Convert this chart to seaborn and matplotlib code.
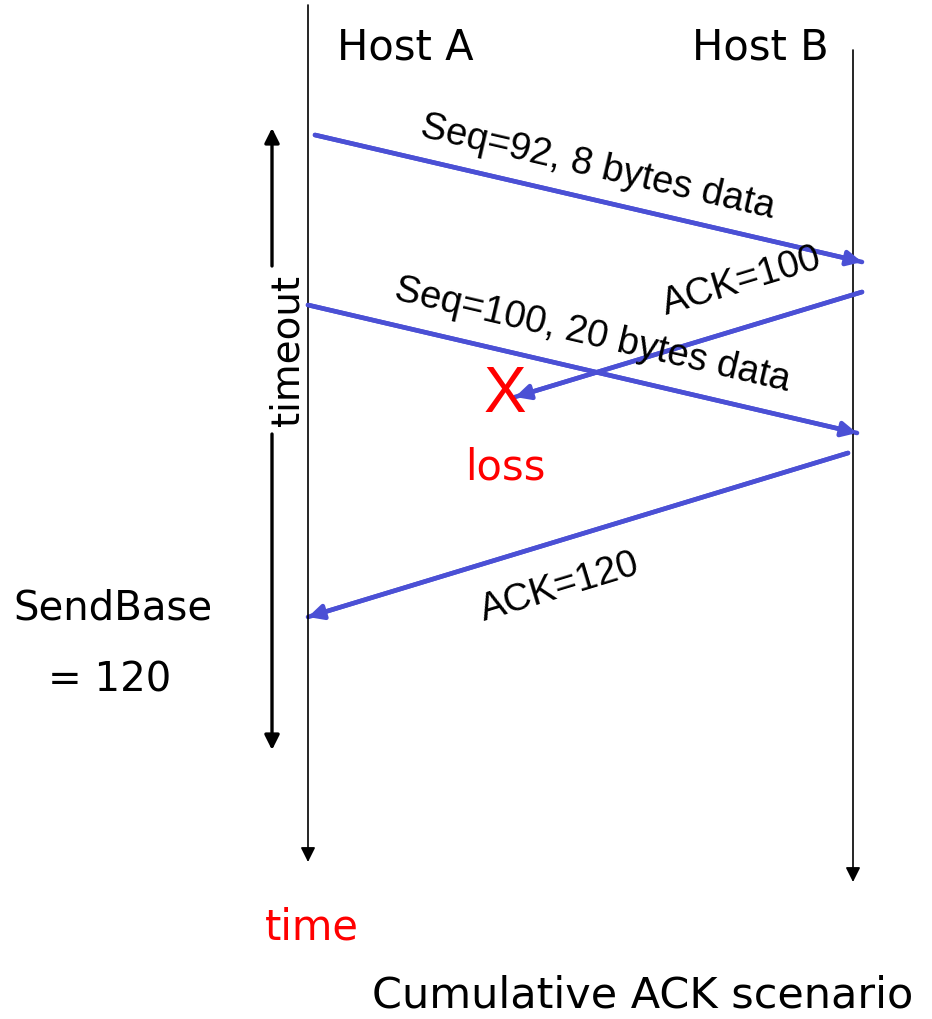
"""
Cumulative ACK scenario — diagrama de secuencia TCP (Host A / Host B)
Salida: out.png
"""
import math

import pandas as pd
import matplotlib
matplotlib.use('Agg')
import matplotlib.pyplot as plt
import seaborn as sns

# ── Datos ─────────────────────────────────────────────────────────────────────
HOSTS       = ['Host A', 'Host B']
HOST_X      = [308, 853]
HOST_TOP    = [5, 50]
HOST_BOTTOM = [862, 882]

MSG_LABELS = ['Seq=92, 8 bytes data', 'ACK=100', 'Seq=100, 20 bytes data', 'ACK=120']
MSG_X0     = [315, 862, 308, 848]
MSG_Y0     = [135, 292, 305, 453]
MSG_X1     = [862, 515, 857, 308]
MSG_Y1     = [262, 397, 433, 617]
LABEL_X    = [598, 742, 592, 560]
LABEL_Y    = [167, 282, 335, 588]

TIMEOUT_X   = 272
TIMEOUT_TOP = 128
TIMEOUT_BOT = 750

BLUE = '#4B50D5'
RED  = '#FF0000'
BIG  = 30     # tamaño de los textos "a mano"
MSG  = 27.5   # tamaño de las etiquetas de mensajes

# ── Plot ──────────────────────────────────────────────────────────────────────
sns.set_theme(style='white')
plt.rcParams['font.family'] = ['DejaVu Sans']
plt.rcParams['text.color'] = 'black'

fig = plt.figure(figsize=(9.32, 10.19), dpi=100)
ax = fig.add_axes([0, 0, 1, 1])
ax.set_xlim(0, 932)
ax.set_ylim(1019, 0)
ax.axis('off')

# líneas de vida
for x, top, bot in zip(HOST_X, HOST_TOP, HOST_BOTTOM):
    ax.annotate('', xy=(x, bot), xytext=(x, top),
                arrowprops=dict(arrowstyle='-|>', color='black', lw=1.2,
                                mutation_scale=22, shrinkA=0, shrinkB=0))
ax.text(405, 47, HOSTS[0], fontsize=BIG, ha='center', va='center')
ax.text(760, 47, HOSTS[1], fontsize=BIG, ha='center', va='center')

# mensajes
msgs = pd.DataFrame({'label': MSG_LABELS, 'x0': MSG_X0, 'y0': MSG_Y0,
                     'x1': MSG_X1, 'y1': MSG_Y1, 'lx': LABEL_X, 'ly': LABEL_Y})
for _, m in msgs.iterrows():
    seg = pd.DataFrame({'x': [m.x0, m.x1], 'y': [m.y0, m.y1]})
    sns.lineplot(data=seg, x='x', y='y', color=BLUE, lw=3.3, ax=ax,
                 sort=False, estimator=None)
    ax.annotate('', xy=(m.x1, m.y1), xytext=(m.x0, m.y0),
                arrowprops=dict(arrowstyle='-|>', color=BLUE, lw=3.3,
                                mutation_scale=22, shrinkA=0, shrinkB=0))
    # ángulo en pantalla (eje y invertido)
    ang = -math.degrees(math.atan2(m.y1 - m.y0, m.x1 - m.x0))
    if ang > 90:
        ang -= 180
    elif ang < -90:
        ang += 180
    ax.text(m.lx, m.ly, m.label, fontsize=MSG, family='Liberation Sans',
            rotation=ang, rotation_mode='anchor', ha='center', va='center')
ax.set_xlabel('')
ax.set_ylabel('')

# pérdida
ax.text(505, 395, 'X', color=RED, fontsize=46, family='Liberation Sans',
        ha='center', va='center')
ax.text(505, 468, 'loss', color=RED, fontsize=BIG, ha='center', va='center')

# timeout
ax.annotate('', xy=(TIMEOUT_X, TIMEOUT_TOP), xytext=(TIMEOUT_X, 266),
            arrowprops=dict(arrowstyle='-|>', color='black', lw=2.4,
                            mutation_scale=22, shrinkA=0, shrinkB=0))
ax.annotate('', xy=(TIMEOUT_X, TIMEOUT_BOT), xytext=(TIMEOUT_X, 434),
            arrowprops=dict(arrowstyle='-|>', color='black', lw=2.4,
                            mutation_scale=22, shrinkA=0, shrinkB=0))
ax.text(288, 350, 'timeout', fontsize=BIG - 2, rotation=90,
        ha='center', va='center')

# textos laterales
ax.text(113, 608, 'SendBase', fontsize=BIG - 1, ha='center', va='center')
ax.text(110, 680, '= 120', fontsize=BIG - 1, ha='center', va='center')
ax.text(312, 928, 'time', color=RED, fontsize=BIG, ha='center', va='center')
ax.text(643, 995, 'Cumulative ACK scenario', fontsize=BIG + 1,
        ha='center', va='center')

fig.savefig('out.png', dpi=100)
